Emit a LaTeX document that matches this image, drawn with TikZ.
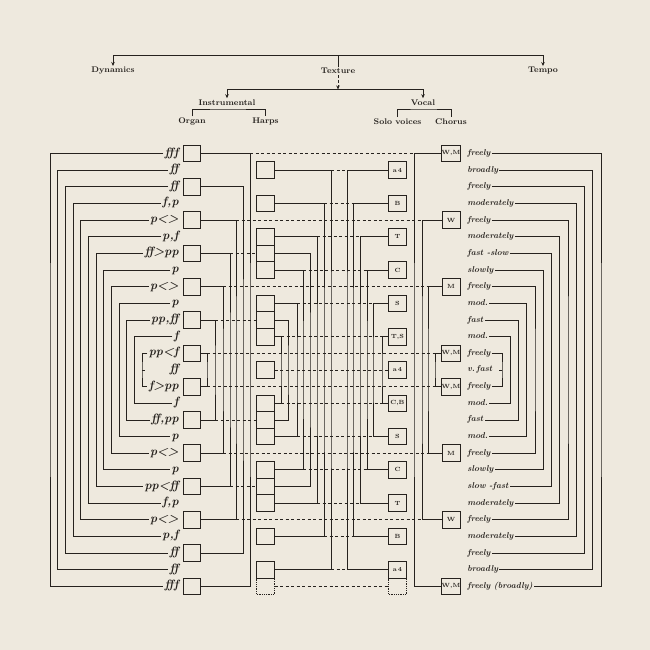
\documentclass[tikz,border=0pt]{standalone}
\usetikzlibrary{arrows.meta, positioning}
\definecolor{paper}{RGB}{238,233,222}
\definecolor{ink}{RGB}{38,34,30}

\begin{document}
\begin{tikzpicture}[
    x=1pt,
    y=-1pt,
    color=ink,
    line width=0.8pt,
    head/.style={font=\bfseries\fontsize{8.2}{9}\selectfont, inner sep=1pt},
    dyn/.style={anchor=east, inner sep=1pt, text height=7.5pt, text depth=2.5pt, font=\bfseries\itshape\fontsize{12}{13}\selectfont},
    tmp/.style={anchor=west, inner sep=1pt, text height=6pt, text depth=2pt, font=\bfseries\itshape\fontsize{8.5}{9}\selectfont},
    box/.style={draw, minimum width=17.5pt, minimum height=16.65pt, inner sep=0pt, font=\bfseries\fontsize{6}{6}\selectfont},
    ghost/.style={box, densely dotted},
    link/.style={dash pattern=on 3pt off 2.5pt},
    arr/.style={-{Stealth[length=4pt, width=3.5pt]}}
]

\fill[paper] (0,0) rectangle (650,650);
\useasboundingbox (0,0) rectangle (650,650);

% Heading tree
\node[head] (dyns) at (113,71) {Dynamics};
\node[head] (tex) at (338,71) {Texture};
\node[head] (tmpo) at (543,71) {Tempo};
\coordinate (top) at (338,55.5);
\draw[arr] (top) -| (dyns.north);
\draw[arr] (top) -| (tmpo.north);
\draw (top) -- (tex.north);

\node[head] (ins) at (227,102.5) {Instrumental};
\node[head] (voc) at (423,102.5) {Vocal};
\coordinate (fork) at (338,89.5);
\draw[arr, densely dashed] (tex.south) -- (fork);
\draw[arr] (fork) -| (ins.north);
\draw[arr] (fork) -| (voc.north);

\node[head] (org) at (192,121.5) {Organ};
\node[head] (hrp) at (265.5,121.5) {Harps};
\node[head] (sol) at (397.5,121.5) {Solo voices};
\node[head] (cho) at (451,121.5) {Chorus};
\coordinate (insb) at (227,109);
\coordinate (vocb) at (423,109);
\draw (org.north) |- (insb) -| (hrp.north);
\draw (sol.north) |- (vocb) -| (cho.north);

% Dynamics and tempo columns
\foreach \lbl [count=\i from 0] in {fff, ff, ff, {f,p}, p<>, {p,f}, ff>pp, p, p<>, p, {pp,ff}, f, pp<f, ff, f>pp, f, {ff,pp}, p, p<>, p, pp<ff, {f,p}, p<>, {p,f}, ff, ff, fff}
    \node[dyn] (d\i) at (180,153.5+16.65*\i) {\lbl};
\foreach \lbl [count=\i from 0] in {freely, broadly, freely, moderately, freely, moderately, fast -slow, slowly, freely, mod., fast, mod., freely, v.\,fast, freely, mod., fast, mod., freely, slowly, slow -fast, moderately, freely, moderately, freely, broadly, freely (broadly)}
    \node[tmp] (t\i) at (466,153.5+16.65*\i) {\lbl};

\foreach \i in {0,...,11} {
    \pgfmathtruncatemacro\j{26-\i}
    \draw (d\i.west) -| (50+7.67*\i,370) |- (d\j.west);
    \draw (t\i.east) -| (601-8.25*\i,370) |- (t\j.east);
}
\coordinate (dl) at (142,0);
\coordinate (tr) at (502,0);
\draw (d12.west) -| (dl |- d13.west) |- (d14.west);
\draw (dl |- d13.west) -- ++(3,0);
\draw (t12.east) -| (tr |- t13.east) |- (t14.east);
\draw (tr |- t13.east) -- ++(-3.5,0);

% Boxes
\foreach \i in {0,2,...,26}
    \node[box] (o\i) at (192,153.5+16.65*\i) {};
\foreach \i in {1,3,5,6,7,9,10,11,13,15,16,17,19,20,21,23,25}
    \node[box] (h\i) at (265.5,153.5+16.65*\i) {};
\node[ghost] (hx) at (265.5,153.5+16.65*26) {};
\foreach \i/\v in {1/a\,4, 3/B, 5/T, 7/C, 9/S, 11/{T,S}, 13/a\,4, 15/{C,B}, 17/S, 19/C, 21/T, 23/B, 25/a\,4}
    \node[box] (s\i) at (397.5,153.5+16.65*\i) {\v};
\node[ghost] (sx) at (397.5,153.5+16.65*26) {};
\foreach \i/\v in {0/{W,M}, 4/W, 8/M, 12/{W,M}, 14/{W,M}, 18/M, 22/W, 26/{W,M}}
    \node[box, minimum width=18pt] (c\i) at (451,153.5+16.65*\i) {\v};

% Pairs joined by verticals
\foreach \i/\xx in {0/250, 2/243, 4/236, 6/230, 8/223, 10/215, 12/207} {
    \pgfmathtruncatemacro\j{26-\i}
    \coordinate (ov\i) at (\xx,0);
    \draw (o\i.east) -| (\xx,370) |- (o\j.east);
}
\foreach \i/\xx in {1/331, 3/324, 5/317, 6/310, 7/303, 9/297, 10/288, 11/281} {
    \pgfmathtruncatemacro\j{26-\i}
    \coordinate (hv\i) at (\xx,0);
    \draw (h\i.east) -| (\xx,370) |- (h\j.east);
}
\foreach \i/\xx in {1/347, 3/353, 5/360, 7/367, 9/373, 11/382} {
    \pgfmathtruncatemacro\j{26-\i}
    \coordinate (sv\i) at (\xx,0);
    \draw (s\i.west) -| (\xx,370) |- (s\j.west);
}
\foreach \i/\xx in {0/414, 4/422, 8/428, 12/435} {
    \pgfmathtruncatemacro\j{26-\i}
    \coordinate (cv\i) at (\xx,0);
    \draw (c\i.west) -| (\xx,370) |- (c\j.west);
}

% Dashed links
\foreach \i/\k in {0/0, 4/4, 22/4, 8/8, 18/8, 12/12, 14/12}
    \draw[link] (o\i.east -| ov\k) -- (c\i.west -| cv\k);
\foreach \i/\k in {6/6, 20/6, 10/10, 16/10}
    \draw[link] (o\i.east -| ov\k) -- (h\i.west);
\foreach \i/\k in {1/1, 25/1, 3/3, 23/3, 5/5, 21/5, 7/7, 19/7, 9/9, 17/9, 11/11, 15/11}
    \draw[link] (h\i.east -| hv\k) -- (s\i.west -| sv\k);
\draw[link] (h13.east) -- (s13.west);
\draw[link] (hx.east) -- (sx.west);

\end{tikzpicture}
\end{document}
